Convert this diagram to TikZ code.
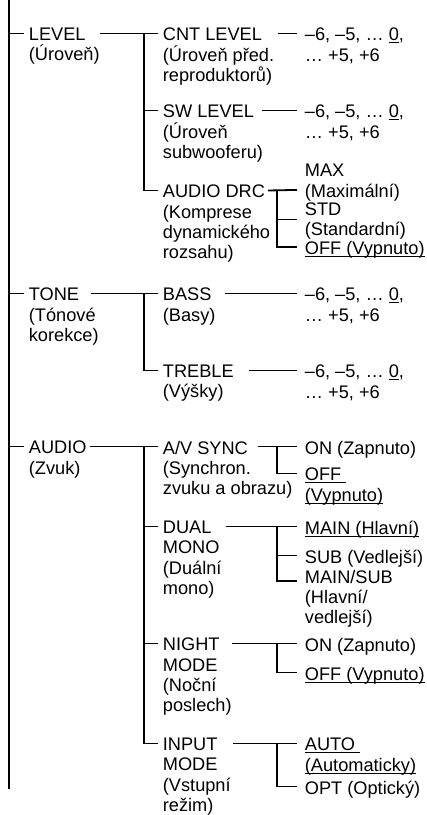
\documentclass[tikz,border=0pt]{standalone}
\usepackage{fontspec}
\setmainfont{Liberation Sans}
\usetikzlibrary{positioning}
% underlined default value
\newcommand{\deflt}[1]{\setbox0\hbox{#1}\rlap{\rule[-2.6pt]{\wd0}{1pt}}\box0}

\begin{document}
\begin{tikzpicture}[x=1pt, y=-1pt, line width=1.8pt,
    every node/.style={font=\fontsize{18.2}{20.4}\selectfont, inner sep=0pt, anchor=north west, yshift=13pt, align=left}]
  \useasboundingbox (0,0) rectangle (427,815);
  % first column
  \node (lvl) at (28,40) {LEVEL\\(Úroveň)};
  \node (tone) at (28,300) {TONE\\(Tónové\\korekce)};
  \node (aud) at (28,453) {AUDIO\\(Zvuk)};
  % second column
  \node (cnt) at (162,40) {CNT LEVEL\\(Úroveň před.\\reproduktorů)};
  \node (sw) at (162,117) {SW LEVEL\\(Úroveň\\subwooferu)};
  \node (drc) at (162,197) {AUDIO DRC\\(Komprese\\dynamického\\rozsahu)};
  \node (bass) at (162,300) {BASS\\(Basy)};
  \node (treb) at (162,377) {TREBLE\\(Výšky)};
  \node (av) at (162,453) {A/V SYNC\\(Synchron.\\zvuku a obrazu)};
  \node (dual) at (162,533) {DUAL\\MONO\\(Duální\\mono)};
  \node (night) at (162,650) {NIGHT\\MODE\\(Noční\\poslech)};
  \node (input) at (162,750) {INPUT\\MODE\\(Vstupní\\režim)};
  % third column
  \node (cntv) at (304,40) {–6, –5, … \deflt{0},\\… +5, +6};
  \node (swv) at (304,117) {–6, –5, … \deflt{0},\\… +5, +6};
  \node (drcmax) at (304,176.5) {MAX\\(Maximální)};
  \node (drcstd) at (304,214.5) {STD\\(Standardní)};
  \node (drcoff) at (304,253.5) {\deflt{OFF (Vypnuto)}};
  \node (bassv) at (304,300) {–6, –5, … \deflt{0},\\… +5, +6};
  \node (trebv) at (304,377) {–6, –5, … \deflt{0},\\… +5, +6};
  \node (avon) at (304,453) {ON (Zapnuto)};
  \node (avoff) at (304,480) {\deflt{OFF\ }\\\deflt{(Vypnuto)}};
  \node (dualmain) at (304,533) {\deflt{MAIN (Hlavní)}};
  \node (dualsub) at (304,562) {SUB (Vedlejší)};
  \node (dualms) at (304,582) {MAIN/SUB\\(Hlavní/\\vedlejší)};
  \node (nighton) at (304,650) {ON (Zapnuto)};
  \node (nightoff) at (304,679) {\deflt{OFF (Vypnuto)}};
  \node (inauto) at (304,750) {\deflt{AUTO\ }\\\deflt{(Automaticky)}};
  \node (inopt) at (304,793) {OPT (Optický)};

  % spine
  \coordinate (spine top) at (9,6);
  \coordinate (spine bot) at (9,802);
  \draw (spine top) -- (spine bot);
  \foreach \n in {lvl,tone,aud}
    \draw ([yshift=-6.5pt]\n.north west -| spine top) -- ([xshift=-4pt,yshift=-6.5pt]\n.north west);

  % first to second column
  \draw ([xshift=72pt,yshift=-6.5pt]lvl.north west) -- ([xshift=-4pt,yshift=-6.5pt]cnt.north west);
  \draw ([xshift=-18pt,yshift=-6.5pt]cnt.north west) |- ([xshift=-4pt,yshift=-6.5pt]drc.north west);
  \draw ([xshift=63pt,yshift=-6.5pt]tone.north west) -- ([xshift=-4pt,yshift=-6.5pt]bass.north west);
  \draw ([xshift=-18pt,yshift=-6.5pt]bass.north west) |- ([xshift=-4pt,yshift=-6.5pt]treb.north west);
  \draw ([xshift=62pt,yshift=-6.5pt]aud.north west) -- ([xshift=-4pt,yshift=-6.5pt]av.north west);
  \draw ([xshift=-18pt,yshift=-6.5pt]av.north west) |- ([xshift=-4pt,yshift=-6.5pt]input.north west);
  \foreach \n in {sw,dual,night}
    \draw ([xshift=-18pt,yshift=-6.5pt]\n.north west) -- ([xshift=-4pt,yshift=-6.5pt]\n.north west);

  % second to third column
  \draw ([xshift=116pt,yshift=-6.5pt]cnt.north west) -- ([xshift=-7pt,yshift=-6.5pt]cntv.north west);
  \draw ([xshift=100pt,yshift=-6.5pt]sw.north west) -- ([xshift=-7pt,yshift=-6.5pt]swv.north west);
  \draw ([xshift=63pt,yshift=-6.5pt]bass.north west) -- ([xshift=-7pt,yshift=-6.5pt]bassv.north west);
  \draw ([xshift=87pt,yshift=-6.5pt]treb.north west) -- ([xshift=-7pt,yshift=-6.5pt]trebv.north west);

  \draw ([xshift=106pt,yshift=-6.5pt]drc.north west) -- ([xshift=-7pt,yshift=-26.4pt]drcmax.north west);
  \draw ([xshift=-27pt,yshift=-26.4pt]drcmax.north west) |- ([xshift=-7pt,yshift=-6.5pt]drcoff.north west);
  \draw ([xshift=-27pt,yshift=-18pt]drcstd.north west) -- ([xshift=-7pt,yshift=-18pt]drcstd.north west);

  \draw ([xshift=96pt,yshift=-6.5pt]av.north west) -- ([xshift=-7pt,yshift=-6.5pt]avon.north west);
  \draw ([xshift=-27pt,yshift=-6.5pt]avon.north west) |- ([xshift=-7pt,yshift=-6.5pt]avoff.north west);

  \draw ([xshift=64pt,yshift=-6.5pt]dual.north west) -- ([xshift=-7pt,yshift=-6.5pt]dualmain.north west);
  \draw ([xshift=-27pt,yshift=-6.5pt]dualmain.north west) |- ([xshift=-7pt,yshift=-12pt]dualms.north west);
  \draw ([xshift=-27pt,yshift=-6.5pt]dualsub.north west) -- ([xshift=-7pt,yshift=-6.5pt]dualsub.north west);

  \draw ([xshift=70pt,yshift=-6.5pt]night.north west) -- ([xshift=-7pt,yshift=-6.5pt]nighton.north west);
  \draw ([xshift=-27pt,yshift=-6.5pt]nighton.north west) |- ([xshift=-7pt,yshift=-6.5pt]nightoff.north west);

  \draw ([xshift=71pt,yshift=-6.5pt]input.north west) -- ([xshift=-7pt,yshift=-6.5pt]inauto.north west);
  \draw ([xshift=-27pt,yshift=-6.5pt]inauto.north west) |- ([xshift=-7pt,yshift=-6.5pt]inopt.north west);
\end{tikzpicture}
\end{document}
